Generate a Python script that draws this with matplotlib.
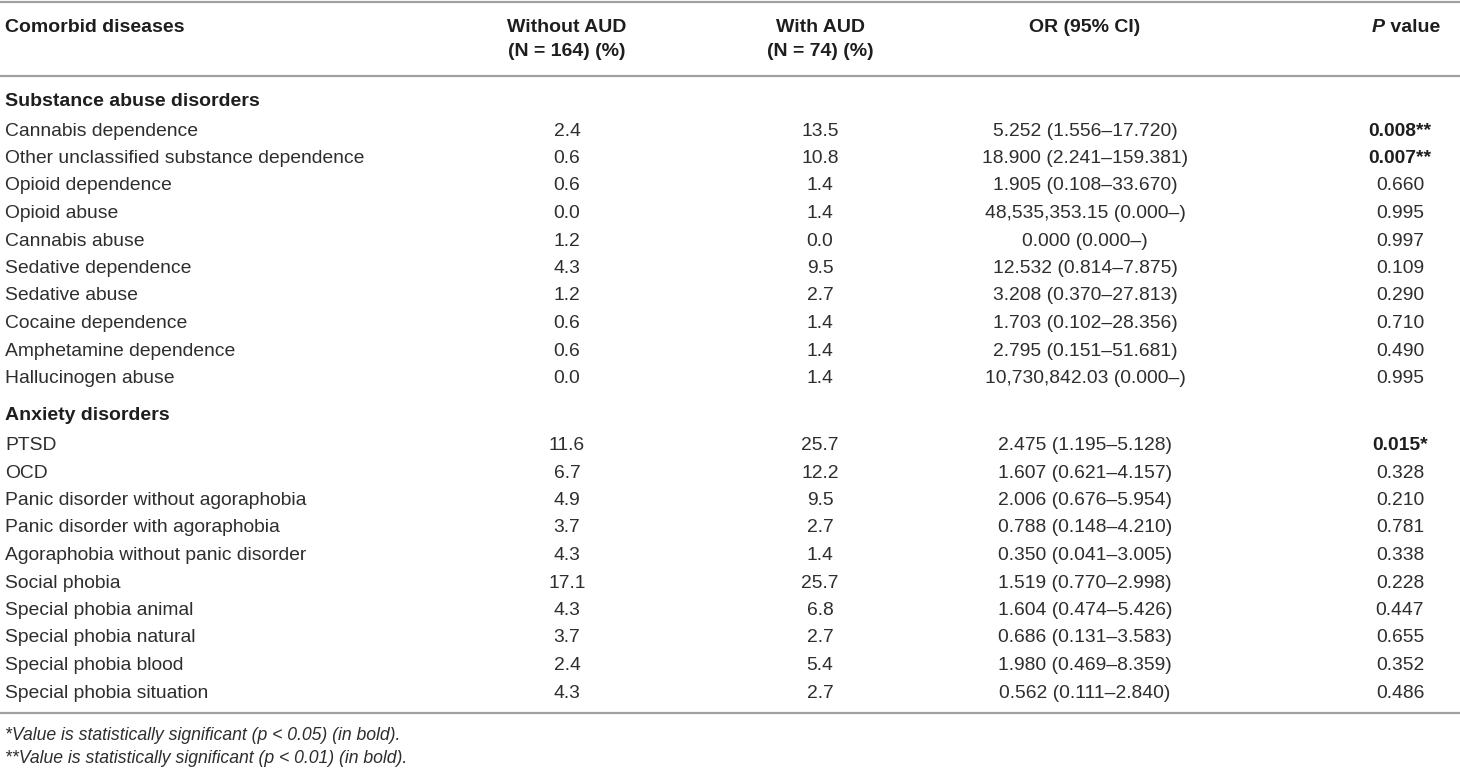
import matplotlib
matplotlib.use("Agg")
import matplotlib.pyplot as plt
from matplotlib import font_manager

# ---- data ----
col_headers = ["Comorbid diseases", "Without AUD\n(N = 164) (%)", "With AUD\n(N = 74) (%)", "OR (95% CI)"]
sections = ["Substance abuse disorders", "Anxiety disorders"]

sub_names = ["Cannabis dependence", "Other unclassified substance dependence", "Opioid dependence",
             "Opioid abuse", "Cannabis abuse", "Sedative dependence", "Sedative abuse",
             "Cocaine dependence", "Amphetamine dependence", "Hallucinogen abuse"]
sub_without = ["2.4", "0.6", "0.6", "0.0", "1.2", "4.3", "1.2", "0.6", "0.6", "0.0"]
sub_with = ["13.5", "10.8", "1.4", "1.4", "0.0", "9.5", "2.7", "1.4", "1.4", "1.4"]
sub_or = ["5.252 (1.556\u201317.720)", "18.900 (2.241\u2013159.381)", "1.905 (0.108\u201333.670)",
          "48,535,353.15 (0.000\u2013)", "0.000 (0.000\u2013)", "12.532 (0.814\u20137.875)",
          "3.208 (0.370\u201327.813)", "1.703 (0.102\u201328.356)", "2.795 (0.151\u201351.681)",
          "10,730,842.03 (0.000\u2013)"]
sub_p = ["0.008**", "0.007**", "0.660", "0.995", "0.997", "0.109", "0.290", "0.710", "0.490", "0.995"]
sub_bold = [True, True, False, False, False, False, False, False, False, False]

anx_names = ["PTSD", "OCD", "Panic disorder without agoraphobia", "Panic disorder with agoraphobia",
             "Agoraphobia without panic disorder", "Social phobia", "Special phobia animal",
             "Special phobia natural", "Special phobia blood", "Special phobia situation"]
anx_without = ["11.6", "6.7", "4.9", "3.7", "4.3", "17.1", "4.3", "3.7", "2.4", "4.3"]
anx_with = ["25.7", "12.2", "9.5", "2.7", "1.4", "25.7", "6.8", "2.7", "5.4", "2.7"]
anx_or = ["2.475 (1.195\u20135.128)", "1.607 (0.621\u20134.157)", "2.006 (0.676\u20135.954)",
          "0.788 (0.148\u20134.210)", "0.350 (0.041\u20133.005)", "1.519 (0.770\u20132.998)",
          "1.604 (0.474\u20135.426)", "0.686 (0.131\u20133.583)", "1.980 (0.469\u20138.359)",
          "0.562 (0.111\u20132.840)"]
anx_p = ["0.015*", "0.328", "0.210", "0.781", "0.338", "0.228", "0.447", "0.655", "0.352", "0.486"]
anx_bold = [True, False, False, False, False, False, False, False, False, False]

footnotes = ["*Value is statistically significant (p < 0.05) (in bold).",
             "**Value is statistically significant (p < 0.01) (in bold)."]

# ---- style ----
plt.rcParams['font.family'] = ['Liberation Sans', 'DejaVu Sans']
FS = 13.9
FSB = 14.0
FSF = 12.7
TXT = "#2e2e2e"
BTXT = "#1e1e1e"
RULE = "#a0a0a0"

fig = plt.figure(figsize=(14.6, 7.7), dpi=100)
ax = fig.add_axes([0, 0, 1, 1])
ax.set_xlim(0, 1460)
ax.set_ylim(770, 0)
ax.axis("off")

x_name = 5
x_cols = [567, 820, 1085, 1400]

# rules
for y in [1.5, 76, 713]:
    ax.plot([0, 1460], [y, y], color=RULE, lw=1.6, solid_capstyle="butt")

# header
ax.text(x_name, 28, col_headers[0], fontsize=FSB, fontweight="bold", color=BTXT, va="center", ha="left")
for i in range(1, 4):
    lines = col_headers[i].split("\n")
    for j, ln in enumerate(lines):
        ax.text(x_cols[i - 1], 28 + j * 24, ln, fontsize=FSB, fontweight="bold", color=BTXT,
                va="center", ha="center")
# P value header: italic P + bold " value"
tp = ax.text(1372, 28, "P", fontsize=FSB, fontweight="bold", fontstyle="italic", color=BTXT,
             va="center", ha="left")
fig.canvas.draw()
bb = tp.get_window_extent(renderer=fig.canvas.get_renderer())
x_end = ax.transData.inverted().transform((bb.x1, bb.y0))[0]
ax.text(x_end, 28, "\u00a0value", fontsize=FSB, fontweight="bold", color=BTXT, va="center", ha="left")

def draw_block(y0, title, names, wo, wi, ors, ps, bolds, step=27.5):
    ax.text(x_name, y0 + 1.5, title, fontsize=FSB, fontweight="bold", color=BTXT, va="center", ha="left")
    for k in range(len(names)):
        y = y0 + (k + 1) * step + 3.5
        ax.text(x_name, y, names[k], fontsize=FS, color=TXT, va="center", ha="left")
        ax.text(x_cols[0], y, wo[k], fontsize=FS, color=TXT, va="center", ha="center")
        ax.text(x_cols[1], y, wi[k], fontsize=FS, color=TXT, va="center", ha="center")
        ax.text(x_cols[2], y, ors[k], fontsize=FS, color=TXT, va="center", ha="center")
        ax.text(x_cols[3], y, ps[k], fontsize=FS, color=BTXT if bolds[k] else TXT,
                va="center", ha="center", fontweight="bold" if bolds[k] else "normal")

draw_block(100, sections[0], sub_names, sub_without, sub_with, sub_or, sub_p, sub_bold)
draw_block(414.5, sections[1], anx_names, anx_without, anx_with, anx_or, anx_p, anx_bold)

for i, fn in enumerate(footnotes):
    ax.text(x_name, 736 + i * 22.5, fn, fontsize=FSF, fontstyle="italic", color=TXT,
            va="center", ha="left")

fig.savefig("out.png", dpi=100)
